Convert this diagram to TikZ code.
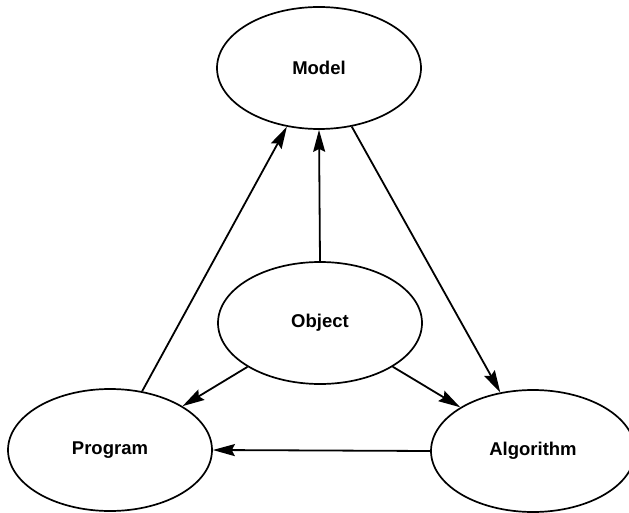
\documentclass[tikz,border=0pt]{standalone}
\usepackage{fontspec}
\setmainfont{Liberation Sans}
\usetikzlibrary{shapes.geometric,arrows.meta}
\begin{document}
\begin{tikzpicture}[x=1pt,y=-1pt,
  concept/.style={ellipse,draw,line width=1.7pt,minimum width=204pt,minimum height=122pt,
    inner sep=0pt,font=\fontsize{18.5}{20}\selectfont\bfseries},
  link/.style={line width=1.8pt,-{Stealth[length=22pt,width=12pt,inset=3pt]}}]
  \useasboundingbox (0,0) rectangle (629,513);
  \node[concept] (model) at (319,68) {Model};
  \node[concept] (object) at (320,323) {Object};
  \node[concept] (program) at (110,450) {Program};
  \node[concept] (algorithm) at (533,451) {Algorithm};
  \draw[link] (program) -- (model);
  \draw[link] (object.north) -- (model.south);
  \draw[link] (model) -- (algorithm);
  \draw[link] (object) -- (program);
  \draw[link] (object) -- (algorithm);
  \draw[link] (algorithm.west) -- (program.east);
\end{tikzpicture}
\end{document}
